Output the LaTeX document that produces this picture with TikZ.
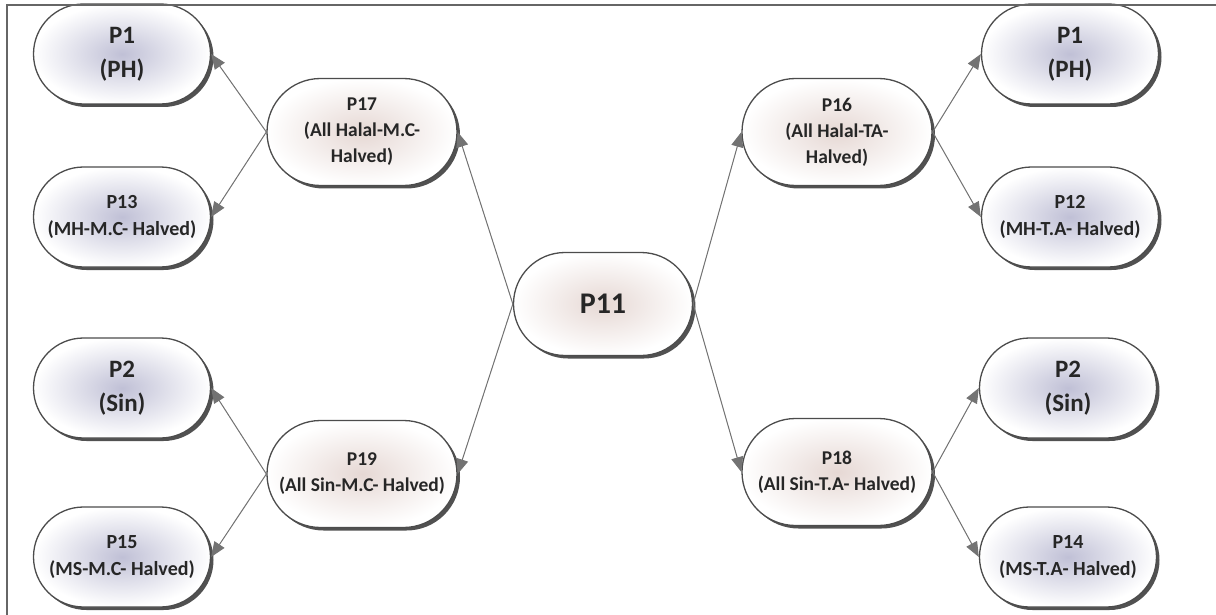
\documentclass[tikz,border=0pt]{standalone}
\usepackage{fontspec}
\setmainfont{Carlito}
\usetikzlibrary{shapes.misc,shadows,arrows.meta}
\definecolor{leafcore}{RGB}{192,192,214}
\definecolor{midcore}{RGB}{230,216,212}

\begin{document}
\begin{tikzpicture}[
        x=1pt, y=-1pt,
        link/.style={-{Triangle[length=15pt,width=12pt]}, draw=black!55, fill=black!55, line width=1pt},
        pill/.style={rounded rectangle, draw=black!70, line width=1.3pt, inner sep=0pt, align=center,
            drop shadow={shadow xshift=3pt, shadow yshift=-3pt, fill=black!85, opacity=0.8},
            text=black!85},
        leaf/.style={pill, minimum width=177pt, minimum height=100pt, inner color=leafcore, outer color=white,
            font=\fontsize{20}{27}\selectfont\bfseries},
        bigleaf/.style={leaf, font=\fontsize{25}{34}\selectfont\bfseries},
        mid/.style={pill, minimum width=190pt, minimum height=107pt, inner color=midcore, outer color=white,
            font=\fontsize{19.5}{26}\selectfont\bfseries},
        hub/.style={pill, minimum width=179pt, minimum height=103pt, inner color=midcore, outer color=white,
            font=\fontsize{30}{34}\selectfont\bfseries}
    ]
        \useasboundingbox (0,0) rectangle (1216,615);

        % Centre
        \node[hub] (p11) at (603,304) {P11};

        % Left half
        \node[mid] (p17) at (362,132) {P17\\(All Halal-M.C-\\Halved)};
        \node[mid] (p19) at (362,474) {P19\\(All Sin-M.C- Halved)};
        \node[bigleaf] (p1a) at (122,54) {P1\\(PH)};
        \node[leaf] (p13) at (122,217) {P13\\(MH-M.C- Halved)};
        \node[bigleaf] (p2a) at (122,388) {P2\\(Sin)};
        \node[leaf] (p15) at (122,557) {P15\\(MS-M.C- Halved)};

        % Right half
        \node[mid] (p16) at (837,132) {P16\\(All Halal-TA-\\Halved)};
        \node[mid] (p18) at (837,472) {P18\\(All Sin-T.A- Halved)};
        \node[bigleaf] (p1b) at (1070,54) {P1\\(PH)};
        \node[leaf] (p12) at (1070,217) {P12\\(MH-T.A- Halved)};
        \node[bigleaf] (p2b) at (1068,388) {P2\\(Sin)};
        \node[leaf] (p14) at (1068,557) {P14\\(MS-T.A- Halved)};

        % Links
        \draw[link] (p11.west) -- (p17.east);
        \draw[link] (p11.west) -- (p19.east);
        \draw[link] (p11.east) -- (p16.west);
        \draw[link] (p11.east) -- (p18.west);
        \draw[link] (p17.west) -- (p1a.east);
        \draw[link] (p17.west) -- (p13.east);
        \draw[link] (p19.west) -- (p2a.east);
        \draw[link] (p19.west) -- (p15.east);
        \draw[link] (p16.east) -- (p1b.west);
        \draw[link] (p16.east) -- (p12.west);
        \draw[link] (p18.east) -- (p2b.west);
        \draw[link] (p18.east) -- (p14.west);

        % Frame
        \draw[black!60, line width=1.2pt] (7,615) -- (7,5) -- (1216,5);
    \end{tikzpicture}
\end{document}
